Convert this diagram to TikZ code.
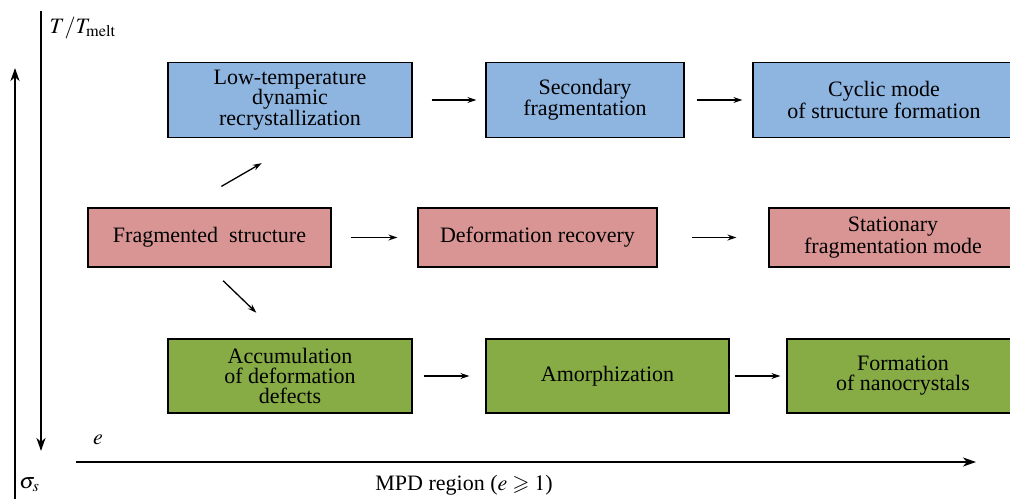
\documentclass[tikz,border=0pt]{standalone}
\usepackage{amssymb}
\usepackage{mathptmx}
\usepackage[no-math]{fontspec}
\setmainfont{Liberation Serif}
\usetikzlibrary{arrows,arrows.meta,positioning}

\definecolor{boxblue}{RGB}{142,180,224}
\definecolor{boxred}{RGB}{217,149,148}
\definecolor{boxgreen}{RGB}{135,172,70}

\begin{document}
\begin{tikzpicture}[
            x = 1pt, y = -1pt, % pixel grid, y downwards
            > = {Stealth[length=9pt, width=6pt, inset=3pt]}, % arrow head style
            semithick,
            font = \rmfamily\fontsize{22}{20}\selectfont
        ]

        \tikzset{
            stage/.style = {
                draw = black,
                line width = 1.2pt,
                align = center,
                inner sep = 0pt,
                minimum height = 75pt
            },
            flow/.style = {->, line width = 1.3pt},
            axis/.style = {-{Stealth[length=13pt, width=9pt, inset=4pt]}, line width = 2.4pt}
        }

        \clip (0,0) rectangle (1010,499);

        % upper row
        \node[stage, fill = boxblue, minimum width = 244pt] (lowT) at (290,100)
            {Low-temperature\\dynamic\\recrystallization};
        \node[stage, fill = boxblue, minimum width = 198pt] (second) at (585,100)
            {Secondary\\fragmentation};
        \node[stage, fill = boxblue, minimum width = 262pt] (cyclic) at (884,100)
            {Cyclic mode\\of structure formation};

        % middle row
        \node[stage, fill = boxred, minimum width = 243pt, minimum height = 59pt] (frag) at (209.5,237.5)
            {Fragmented\ \ structure};
        \node[stage, fill = boxred, minimum width = 239pt, minimum height = 59pt] (recov) at (537.5,237.5)
            {Deformation recovery};
        \node[stage, fill = boxred, minimum width = 248pt, minimum height = 59pt] (stat) at (893,237.5)
            {Stationary\\fragmentation mode};

        % lower row
        \node[stage, fill = boxgreen, minimum width = 244pt, minimum height = 74pt] (accum) at (290,376)
            {Accumulation\\of deformation\\defects};
        \node[stage, fill = boxgreen, minimum width = 243pt, minimum height = 74pt] (amorph) at (607.5,376)
            {Amorphization};
        \node[stage, fill = boxgreen, minimum width = 232pt, minimum height = 74pt] (nano) at (903,376)
            {Formation\\of nanocrystals};

        \draw[flow, shorten < = 19pt, shorten > = 9pt] (lowT) -- (second);
        \draw[flow, shorten < = 12pt, shorten > = 10pt] (second) -- (cyclic);
        \draw[flow, shorten < = 19pt, shorten > = 20pt] (frag) -- (recov);
        \draw[flow, shorten < = 34pt, shorten > = 32pt] (recov) -- (stat);
        \draw[flow, shorten < = 11pt, shorten > = 16pt] (accum) -- (amorph);
        \draw[flow, shorten < = 5pt, shorten > = 6pt] (amorph) -- (nano);
        \draw[flow, shorten < = 42pt, shorten > = 50pt] ([xshift=-24.5pt]frag.north) -- ([xshift=15pt]lowT.south);
        \draw[flow, shorten < = 19pt, shorten > = 37pt] (frag.south) -- ([xshift=-7pt]accum.north);

        % axes
        \coordinate (sigTop) at (15,68);
        \coordinate (sigBot) at (15,499);
        \coordinate (tTop) at (41,11);
        \coordinate (tBot) at (41,451);
        \coordinate (eLeft) at (76,462);
        \coordinate (eRight) at (976,462);
        \draw[axis] (sigBot) -- (sigTop);
        \draw[axis] (tTop) -- (tBot);
        \draw[axis] (eLeft) -- (eRight);

        \node[anchor = west] (tlab) at (46,28) {$T/T_{\mathrm{melt}}$};
        \node (elab) at (98,440) {$e$};
        \node[anchor = west, inner sep = 0pt] (slab) at (19,485) {$\sigma_s$};
        \node (mpd) at (464,485) {MPD region ($e \geqslant 1$)};

    \end{tikzpicture}
\end{document}
